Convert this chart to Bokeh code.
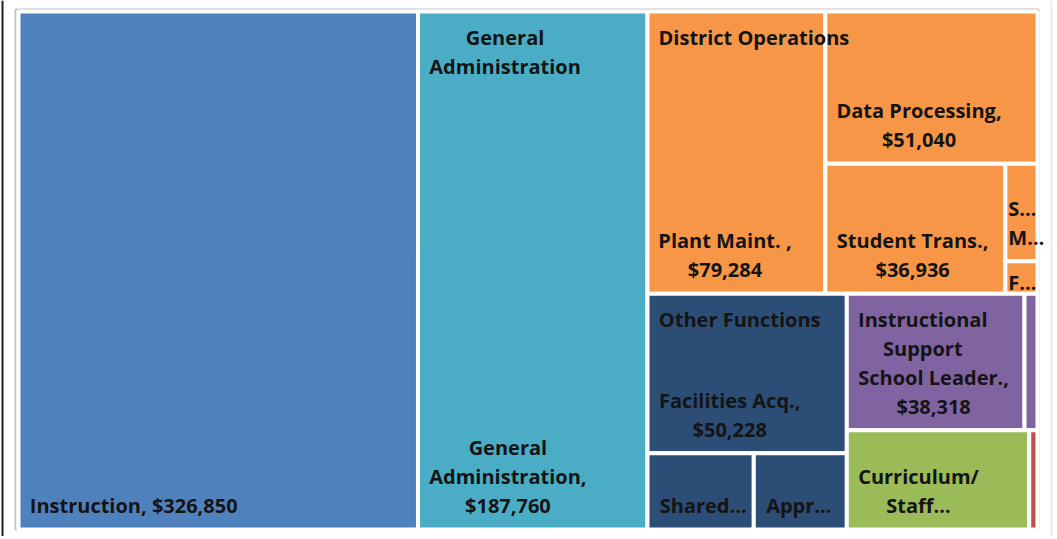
from bokeh.plotting import figure
from bokeh.models import Range1d, ColumnDataSource, Span
from bokeh.core.properties import value
from bokeh.embed import file_html
from bokeh.resources import INLINE

# ---------------- data ----------------
groups = ["Instruction", "General Administration", "District Operations",
          "Other Functions", "Instructional Support",
          "Curriculum/Staff Development", "Other"]
group_colors = ["#4F81BD", "#4BACC6", "#F79646", "#2C4D75", "#8064A2",
                "#9BBB59", "#C0504D"]
group_headers = [None, ["General", "Administration"], ["District Operations"],
                 ["Other Functions"], ["Instructional", "Support"], None, None]

leaf_names = ["Instruction", "General Administration", "Plant Maint.",
              "Data Processing", "Student Trans.", "S… M…", "F…",
              "Facilities Acq.", "Shared…", "Appr…", "School Leader.",
              "Instructional Support (other)", "Curriculum/Staff…", "Other"]
leaf_group = [0, 1, 2, 2, 2, 2, 2, 3, 3, 3, 4, 4, 5, 6]
leaf_values = [326850, 187760, 79284, 51040, 36936, 4950, 1650,
               50228, 12800, 11200, 38318, 2800, 28600, 1300]
leaf_label_lines = [["Instruction, {v}"],
                    ["General", "Administration,", "{v}"],
                    ["Plant Maint. ,", "{v}"],
                    ["Data Processing,", "{v}"],
                    ["Student Trans.,", "{v}"],
                    ["S…", "M…"],
                    ["F…"],
                    ["Facilities Acq.,", "{v}"],
                    ["Shared…"],
                    ["Appr…"],
                    ["School Leader.,", "{v}"],
                    [],
                    ["Curriculum/", "Staff…"],
                    []]

# nesting / split orientation of the treemap (indices into leaf lists)
layout_tree = ("h", [0, 1,
                     ("v", [("h", [2, ("v", [3, ("h", [4, ("v", [5, 6])])])]),
                            ("h", [("v", [7, ("h", [8, 9])]),
                                   ("v", [("h", [10, 11]), ("h", [12, 13])])])])])

# ---------------- layout ----------------
W, H = 1054, 536
AREA = (18, 11, 1037, 529)
FRAME = (15, 9, 1038, 529)


def total(node):
    if isinstance(node, int):
        return leaf_values[node]
    return sum(total(c) for c in node[1])


rects = {}


def place(node, x0, y0, x1, y1):
    if isinstance(node, int):
        rects[node] = (x0, y0, x1, y1)
        return
    orient, kids = node
    t = total(node)
    pos = x0 if orient == "h" else y0
    for k in kids:
        share = total(k) / t
        if orient == "h":
            w = (x1 - x0) * share
            place(k, pos, y0, pos + w, y1)
            pos += w
        else:
            h = (y1 - y0) * share
            place(k, x0, pos, x1, pos + h)
            pos += h


place(layout_tree, *AREA)

# rough Open Sans Bold advance widths (em)
CW = {' ': .26, ',': .28, '.': .29, '/': .42, '$': .57, '…': .9,
      'A': .69, 'C': .63, 'D': .72, 'F': .55, 'G': .72, 'I': .33, 'L': .54,
      'M': .9, 'O': .78, 'P': .62, 'S': .55, 'a': .59, 'c': .50, 'd': .63,
      'e': .60, 'f': .39, 'g': .56, 'h': .65, 'i': .30, 'l': .30, 'm': .97,
      'n': .65, 'o': .62, 'p': .63, 'q': .63, 'r': .45, 's': .50, 't': .43,
      'u': .65, 'v': .57, 'y': .57}
FS = 20
LINE = 29
GAP = 2


def tw(s):
    return sum(CW.get(ch, .57) for ch in s) * FS


centered = dict(x=[], y=[], text=[])
lefted = dict(x=[], y=[], text=[])


def add_block(lines, left, cy_list, narrow=False):
    if narrow:
        for l, cy in zip(lines, cy_list):
            lefted["x"].append(left)
            lefted["y"].append(cy)
            lefted["text"].append(l)
        return
    w = max(tw(l) for l in lines)
    cx = left + w / 2
    for l, cy in zip(lines, cy_list):
        centered["x"].append(cx)
        centered["y"].append(cy)
        centered["text"].append(l)


qs = dict(left=[], right=[], top=[], bottom=[], color=[])
for i in range(len(leaf_values)):
    x0, y0, x1, y1 = rects[i]
    qs["left"].append(x0)
    qs["right"].append(x1)
    qs["top"].append(y0)
    qs["bottom"].append(y1)
    qs["color"].append(group_colors[leaf_group[i]])
    lines = [l.replace("{v}", f"${leaf_values[i]:,}") for l in leaf_label_lines[i]]
    if not lines:
        continue
    vx0, vy0, vx1, vy1 = x0 + GAP, y0 + GAP, x1 - GAP, y1 - GAP
    narrow = (vx1 - vx0) <= 60
    padx = 1 if narrow else 10
    padb = 22 if (vy1 - vy0) > 50 else 9
    n = len(lines)
    cys = [vy1 - padb - (n - 1 - k) * LINE for k in range(n)]
    add_block(lines, vx0 + padx, cys, narrow)

for g, hdr in enumerate(group_headers):
    if not hdr:
        continue
    members = [i for i in range(len(leaf_values)) if leaf_group[i] == g]
    gx0 = min(rects[i][0] for i in members) + GAP
    gy0 = min(rects[i][1] for i in members) + GAP
    cys = [gy0 + 24 + k * LINE for k in range(len(hdr))]
    add_block(hdr, gx0 + 10, cys)

# ---------------- figure ----------------
p = figure(width=W, height=H, output_backend="svg", toolbar_location=None,
           x_range=Range1d(0, W), y_range=Range1d(H, 0),
           x_axis_location=None, y_axis_location=None, min_border=0)
p.grid.visible = False
p.outline_line_color = None
p.background_fill_color = "white"
p.border_fill_color = "white"

# chart frame and page edges
p.quad(left=[FRAME[0]], right=[FRAME[2]], top=[FRAME[1]], bottom=[FRAME[3]],
       fill_color=None, line_color="#c4c4c4", line_width=2)
p.add_layout(Span(location=2, dimension="height", line_color="#1e1e1e", line_width=2))
p.add_layout(Span(location=1051, dimension="height", line_color="#ececec", line_width=2))

p.quad(left="left", right="right", top="top", bottom="bottom",
       fill_color="color", line_color="white", line_width=4,
       source=ColumnDataSource(qs))

text_style = dict(text_font=value("Open Sans"), text_font_style="bold",
                  text_font_size=f"{FS}px", text_color="#141414",
                  text_baseline="middle")
p.text(x="x", y="y", text="text", source=ColumnDataSource(centered),
       text_align="center", **text_style)
p.text(x="x", y="y", text="text", source=ColumnDataSource(lefted),
       text_align="left", **text_style)

open("out.html", "w").write(file_html(p, INLINE))
